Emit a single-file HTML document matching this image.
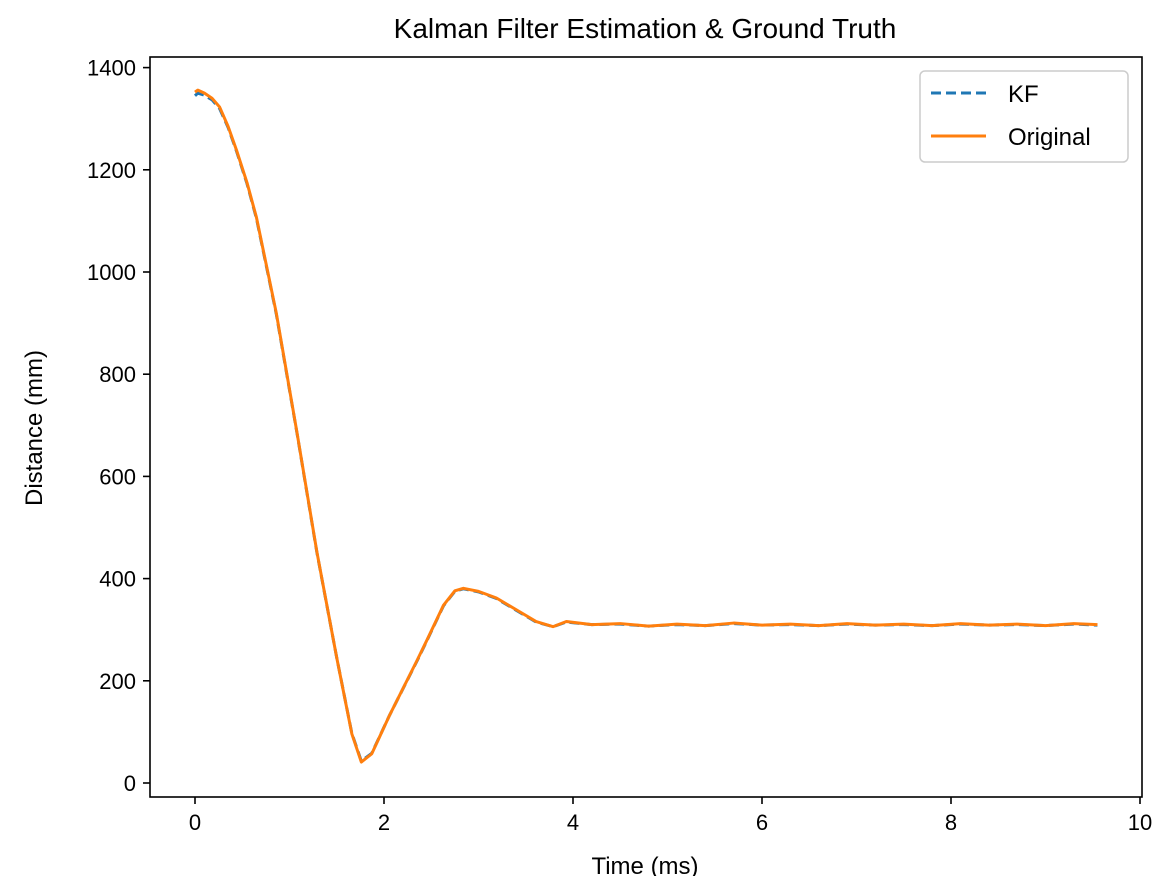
<!DOCTYPE html>
<html><head><meta charset="utf-8"><style>
body{margin:0;background:#fff;}
svg{display:block;font-family:"Liberation Sans","DejaVu Sans",sans-serif;}
</style></head><body>
<svg id="chart" width="1176" height="876">
<text x="645" y="38" text-anchor="middle" font-size="28" fill="#000">Kalman Filter Estimation &amp; Ground Truth</text>
<g id="plot"></g>
<rect x="150" y="57" width="992" height="740" fill="none" stroke="#000" stroke-width="1.6"/>
<g id="xticks"></g><g id="yticks"></g>
<text x="645" y="874" text-anchor="middle" font-size="24">Time (ms)</text>
<text transform="translate(42,428) rotate(-90)" text-anchor="middle" font-size="24">Distance (mm)</text>
<g>
<rect x="920" y="71" width="208" height="91" rx="5" fill="#fff" stroke="#ccc" stroke-width="1.5"/>
<line x1="931" y1="93" x2="986" y2="93" stroke="#1f77b4" stroke-width="3" stroke-dasharray="10,5"/>
<text x="1008" y="102" font-size="24">KF</text>
<line x1="931" y1="136" x2="986" y2="136" stroke="#ff7f0e" stroke-width="3"/>
<text x="1008" y="145" font-size="24">Original</text>
</g>
</svg>
<script>
const times=[0,0.03,0.1,0.18,0.26,0.35,0.44,0.55,0.65,0.86,1.08,1.29,1.50,1.66,1.76,1.87,2.06,2.35,2.45,2.63,2.75,2.84,3.0,3.19,3.40,3.61,3.79,3.93,4.2,4.5,4.8,5.1,5.4,5.7,6.0,6.3,6.6,6.9,7.2,7.5,7.8,8.1,8.4,8.7,9.0,9.3,9.55];
const original=[1352,1356,1350,1340,1323,1285,1238,1175,1107,920,685,452,245,96,41,57,133,240,278,348,376,381,375,362,339,316,306,316,310,312,307,311,308,313,309,311,308,312,309,311,308,312,309,311,308,312,310];
const kf=[1345,1350,1346,1337,1320,1283,1236,1173,1105,918,684,451,245,97,43,58,133,239,277,347,375,380,374,361,338,315,306,315,310,311,307,310,308,312,309,310,308,311,309,310,308,311,309,310,308,311,309];
const xTicks=[0,2,4,6,8,10];
const yTicks=[0,200,400,600,800,1000,1200,1400];
const X=t=>195+94.5*t, Y=v=>783-0.511*v;
const ns="http://www.w3.org/2000/svg";
const plot=document.getElementById('plot');
function line(vals,color,dash,name){
  const p=document.createElementNS(ns,'polyline');
  p.setAttribute('points',times.map((t,i)=>X(t)+','+Y(vals[i])).join(' '));
  p.setAttribute('fill','none');p.setAttribute('stroke',color);p.setAttribute('stroke-width','3');
  p.setAttribute('stroke-linejoin','round');
  if(dash)p.setAttribute('stroke-dasharray',dash);
  
  
  plot.appendChild(p);
}
line(kf,'#1f77b4','10,5','kf-line');
line(original,'#ff7f0e',null,'original-line');
const xg=document.getElementById('xticks');
xTicks.forEach(v=>{
  const l=document.createElementNS(ns,'line');
  l.setAttribute('x1',X(v));l.setAttribute('x2',X(v));l.setAttribute('y1',797);l.setAttribute('y2',804);l.setAttribute('stroke','#000');l.setAttribute('stroke-width','1.6');
  
  
  xg.appendChild(l);
  const t=document.createElementNS(ns,'text');
  t.setAttribute('x',X(v));t.setAttribute('y',830);t.setAttribute('text-anchor','middle');t.setAttribute('font-size','22');t.textContent=v;
  
  
  xg.appendChild(t);
});
const yg=document.getElementById('yticks');
yTicks.forEach(v=>{
  const l=document.createElementNS(ns,'line');
  l.setAttribute('x1',143);l.setAttribute('x2',150);l.setAttribute('y1',Y(v));l.setAttribute('y2',Y(v));l.setAttribute('stroke','#000');l.setAttribute('stroke-width','1.6');
  
  
  yg.appendChild(l);
  const t=document.createElementNS(ns,'text');
  t.setAttribute('x',136);t.setAttribute('y',Y(v)+8);t.setAttribute('text-anchor','end');t.setAttribute('font-size','22');t.textContent=v;
  
  
  yg.appendChild(t);
});
</script>
</body></html>
